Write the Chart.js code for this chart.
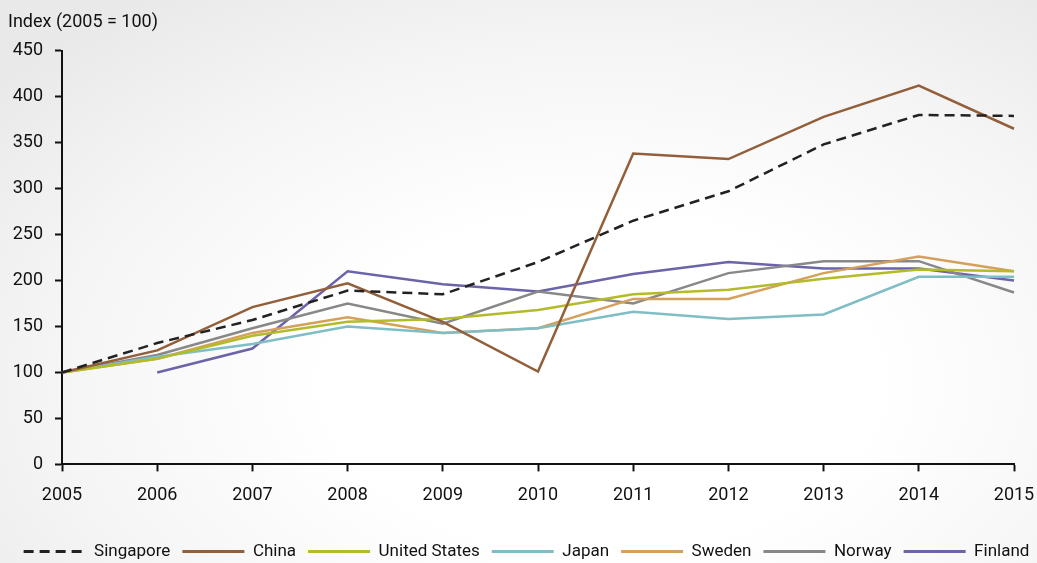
<!DOCTYPE html>
<html>
<head>
<meta charset="utf-8">
<script src="https://cdn.jsdelivr.net/npm/chart.js@4/dist/chart.umd.min.js"></script>
<style>
	html, body {
		margin: 0;
		padding: 0;
	}
	body {
		width: 1037px;
		height: 563px;
		background: radial-gradient(ellipse 75% 85% at 58% 68%, #ffffff 35%, #f5f5f5 70%, #e9e9e9 100%);
	}
	#wrap {
		position: relative;
		width: 1037px;
		height: 563px;
	}
</style>
</head>
<body>
<div id="wrap"><canvas id="rd-chart"></canvas></div>
<script>
const years = ['2005', '2006', '2007', '2008', '2009', '2010', '2011', '2012', '2013', '2014', '2015'];

const singapore = [100, 132, 157, 189, 185, 220, 265, 297, 348, 380, 379];
const china = [100, 124, 171, 197, 155, 101, 338, 332, 378, 412, 365];
const unitedStates = [100, 115, 140, 155, 158, 168, 185, 190, 202, 212, 210];
const japan = [100, 117, 131, 150, 143, 148, 166, 158, 163, 204, 204];
const sweden = [100, 115, 143, 160, 143, 148, 180, 180, 208, 226, 210];
const norway = [100, 119, 148, 175, 153, 188, 175, 208, 221, 221, 187];
const finland = [null, 100, 126, 210, 196, 188, 207, 220, 213, 213, 200];

const font = '"Roboto", "Liberation Sans", sans-serif';

function line(label, data, color, dash) {
	return {
		label,
		data,
		borderColor: color,
		backgroundColor: color,
		borderWidth: 2.5,
		borderDash: dash || [],
		pointRadius: 0,
		tension: 0,
		spanGaps: false
	};
}

const ctx = document.getElementById('rd-chart').getContext('2d');

new Chart(ctx, {
	type: 'line',
	data: {
		labels: years,
		datasets: [
			line('Singapore', singapore, '#222222', [10, 6]),
			line('China', china, '#935f3a'),
			line('United States', unitedStates, '#b4bb2a'),
			line('Japan', japan, '#7fbec4'),
			line('Sweden', sweden, '#d4a05c'),
			line('Norway', norway, '#888888'),
			line('Finland', finland, '#6b64a8')
		]
	},
	options: {
		responsive: true,
		maintainAspectRatio: false,
		animation: false,
		layout: {
			padding: { left: 8, right: -8, top: 8, bottom: -7 }
		},
		plugins: {
			title: {
				display: true,
				text: 'Index (2005 = 100)',
				align: 'start',
				color: '#111',
				font: { family: font, size: 18, weight: 'normal' },
				padding: { top: 4, bottom: 17 }
			},
			legend: {
				position: 'bottom',
				labels: {
					usePointStyle: true,
					pointStyle: 'line',
					pointStyleWidth: 62,
					color: '#111',
					padding: 12,
					font: { family: font, size: 17 },
					// point-style legend items lose the dataset dash, put it back
					generateLabels(chart) {
						const items = Chart.defaults.plugins.legend.labels.generateLabels(chart);
						items.forEach(item => {
							const ds = chart.data.datasets[item.datasetIndex];
							item.lineDash = ds.borderDash;
							item.lineWidth = 3;
						});
						return items;
					}
				}
			},
			tooltip: { enabled: false }
		},
		scales: {
			x: {
				grid: {
					display: true,
					drawOnChartArea: false,
					drawTicks: true,
					tickLength: 7,
					tickWidth: 2,
					tickColor: '#111'
				},
				border: { color: '#111', width: 2 },
				ticks: {
					color: '#111',
					padding: 13,
					maxRotation: 0,
					font: { family: font, size: 18 }
				},
				afterFit(axis) {
					axis.height += 12;
					axis.paddingRight = 23;
				}
			},
			y: {
				min: 0,
				max: 450,
				grid: {
					display: true,
					drawOnChartArea: false,
					drawTicks: true,
					tickLength: 7,
					tickWidth: 2,
					tickColor: '#111'
				},
				border: { color: '#111', width: 2 },
				ticks: {
					stepSize: 50,
					color: '#111',
					padding: 12,
					font: { family: font, size: 18 }
				},
				afterFit(axis) {
					axis.width = 54;
				}
			}
		}
	}
});
</script>
</body>
</html>
